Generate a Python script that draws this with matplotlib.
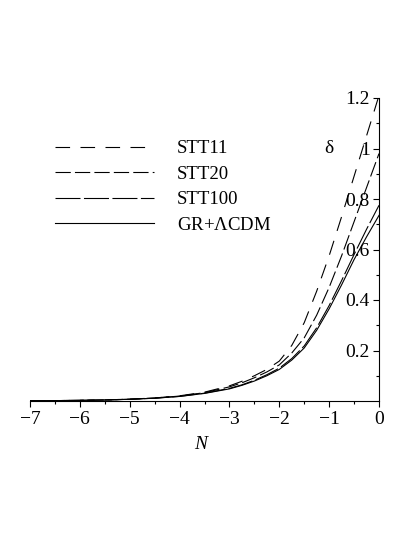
import matplotlib
matplotlib.use('Agg')
import matplotlib.pyplot as plt
from matplotlib.lines import Line2D

# e-folding number N and density contrast delta
N = [-7, -6.5, -6, -5.5, -5, -4.5, -4, -3.5, -3, -2.75, -2.5, -2.25,
     -2, -1.75, -1.5, -1.25, -1, -0.75, -0.5, -0.25, 0]

stt11 = [0.0009, 0.0015, 0.0026, 0.0043, 0.0073, 0.012, 0.0205, 0.035, 0.06, 0.078, 0.1, 0.125,
         0.158, 0.22, 0.31, 0.435, 0.575, 0.73, 0.89, 1.05, 1.21]
stt20 = [0.0009, 0.0015, 0.0026, 0.0042, 0.0071, 0.0118, 0.0195, 0.033, 0.056, 0.072, 0.092, 0.115,
         0.143, 0.19, 0.25, 0.34, 0.45, 0.575, 0.71, 0.845, 0.98]
stt100 = [0.0009, 0.0015, 0.0025, 0.004, 0.0069, 0.0112, 0.0184, 0.031, 0.05, 0.064, 0.082, 0.104,
          0.13, 0.168, 0.218, 0.29, 0.378, 0.477, 0.58, 0.68, 0.775]
gr = [0.0009, 0.0015, 0.0025, 0.004, 0.0068, 0.011, 0.018, 0.03, 0.048, 0.062, 0.079, 0.10,
      0.125, 0.162, 0.21, 0.28, 0.365, 0.46, 0.56, 0.65, 0.735]

labels = ['STT11', 'STT20', 'STT100', r'GR+$\Lambda$CDM']
x_ticks = [-7, -6, -5, -4, -3, -2, -1, 0]
y_ticks = [0.2, 0.4, 0.6, 0.8, 1, 1.2]

plt.rcParams['font.family'] = ['Liberation Serif', 'DejaVu Serif']
plt.rcParams['mathtext.fontset'] = 'custom'
plt.rcParams['mathtext.rm'] = 'Liberation Serif'
plt.rcParams['lines.scale_dashes'] = False

fig = plt.figure(figsize=(4.15, 5.37), dpi=100)
ax = fig.add_axes([30/415, 1 - 401/537, 349/415, 303/537])

styles = [(0, (10.5, 7.5)), (0, (11, 3)), (0, (18, 2.5)), '-']
series = [stt11, stt20, stt100, gr]
for vals, ls, lab in zip(series, styles, labels):
    ax.plot(N, vals, color='black', lw=0.8, linestyle=ls, label=lab)

ax.set_xlim(-7, 0)
ax.set_ylim(0, 1.2)

ax.spines['right'].set_visible(False)
ax.spines['top'].set_visible(False)
ax.spines['left'].set_position(('data', 0))
for sp in ('left', 'bottom'):
    ax.spines[sp].set_linewidth(0.8)

ax.set_xticks(x_ticks)
ax.set_xticklabels(['\u2212' + str(-t) if t < 0 else str(t) for t in x_ticks])
ax.set_xticks([-6.5, -5.5, -4.5, -3.5, -2.5, -1.5, -0.5], minor=True)
ax.set_yticks(y_ticks)
ax.set_yticklabels(['0.2', '0.4', '0.6', '0.8', '1', '1.2'])
ax.set_yticks([0.1, 0.3, 0.5, 0.7, 0.9, 1.1], minor=True)
ax.tick_params(axis='both', which='major', labelsize=14, length=4, width=0.8)
ax.tick_params(axis='x', which='major', pad=3.5)
ax.tick_params(axis='y', which='major', pad=2.5)
ax.tick_params(axis='both', which='minor', length=2.5, width=0.8)
ax.patch.set_alpha(0)

ax.text(-1.0, 1.0, '\u03b4', fontsize=14, ha='center', va='center')
ax.text(-3.58, -0.172, 'N', fontsize=14, style='italic', ha='center', va='center')

handles = [Line2D([], [], color='black', lw=0.8, linestyle=ls) for ls in styles]
ax.legend(handles, labels, loc='upper left', bbox_to_anchor=(55/415, 1 - 140/537),
          bbox_transform=fig.transFigure, frameon=False, fontsize=13.5,
          handlelength=5.3, handletextpad=1.2, labelspacing=0.45, borderpad=0,
          borderaxespad=0)

fig.savefig('out.png', dpi=100)
